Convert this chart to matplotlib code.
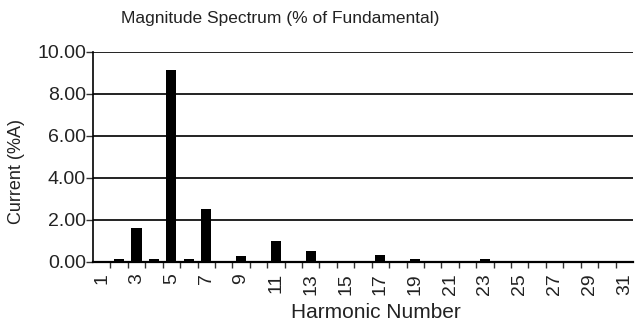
import matplotlib.pyplot as plt
import numpy as np

plt.rcParams['font.family'] = ['Liberation Sans', 'DejaVu Sans']

# harmonic magnitudes, % of fundamental
harmonics = list(range(1, 32))
current_pct = [0.00, 0.16, 1.62, 0.15, 9.12, 0.13, 2.52, 0.03, 0.29, 0.03,
               1.02, 0.03, 0.51, 0.02, 0.02, 0.03, 0.32, 0.03, 0.16, 0.03,
               0.04, 0.03, 0.15, 0.03, 0.03, 0.02, 0.02, 0.02, 0.02, 0.02, 0.02]
y_ticks = [0, 2, 4, 6, 8, 10]

fig = plt.figure(figsize=(6.35, 3.26), dpi=100)
ax = fig.add_axes([93 / 635, 1 - 262 / 326, 540 / 635, 210 / 326])

ax.bar(harmonics, current_pct, width=0.58, color='black', zorder=3)

ax.set_xlim(0.5, 31.5)
ax.set_ylim(0, 10)
ax.set_yticks(y_ticks)
ax.set_yticklabels([f"{v:.2f}" for v in y_ticks], fontsize=14, color='#222222')
ax.set_xticks(harmonics[::2])
ax.set_xticklabels([str(h) for h in harmonics[::2]], rotation=90, fontsize=14, color='#222222')
ax.set_xticks(np.arange(1.5, 31.5, 1), minor=True)
ax.tick_params(axis='x', which='major', length=0, pad=8)
ax.tick_params(axis='x', which='minor', length=4, width=1, color='#333333')
ax.tick_params(axis='y', length=5, width=1, color='#333333', pad=0)

for v in y_ticks[1:]:
    ax.axhline(v, color='#222222', linewidth=1.4, zorder=1)

for side in ['top', 'right']:
    ax.spines[side].set_visible(False)
ax.spines['left'].set_linewidth(1.2)
ax.spines['bottom'].set_linewidth(1.6)

ax.set_xlabel("Harmonic Number", fontsize=15, color='#222222', va='center')
ax.xaxis.set_label_coords((376 - 93) / 540, (262 - 312) / 210)
ax.set_ylabel("Current (%A)", fontsize=13, color='#222222', va='center')
ax.yaxis.set_label_coords((16 - 93) / 540, (262 - 171) / 210)
fig.text(280 / 635, 1 - 18 / 326, "Magnitude Spectrum (% of Fundamental)",
         ha='center', va='center', fontsize=12.5, color='#222222')

fig.savefig('out.png', dpi=100)
